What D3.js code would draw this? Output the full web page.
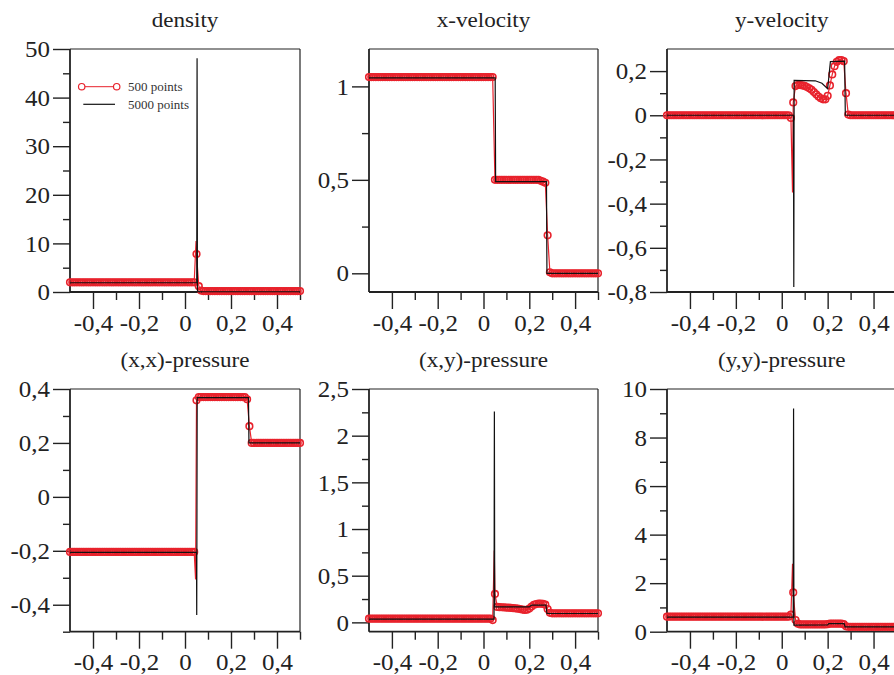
<!DOCTYPE html>
<html>
<head>
<meta charset="utf-8">
<script src="https://cdn.jsdelivr.net/npm/d3@7"></script>
<style>
body{margin:0;background:#fff}
svg{display:block}
</style>
</head>
<body>
<svg id="chart" width="894" height="675"></svg>
<script>
// ---------------- DATA ----------------
const titles = ["density","x-velocity","y-velocity","(x,x)-pressure","(x,y)-pressure","(y,y)-pressure"];
const seriesNames = ["500 points","5000 points"];
const xDomain = [-0.5, 0.5];
const xTicksMajor = [-0.4,-0.2,0,0.2,0.4];
const xTicksMinor = [-0.3,-0.1,0.1,0.3,0.5];

// sample positions of the marked 500-point solution (every 5th cell)
const gridX = d3.range(101).map(i => Math.round((-0.5 + 0.01*i)*100)/100);

const densityRed = [
2,2,2,2,2,2,2,2,2,2,
2,2,2,2,2,2,2,2,2,2,
2,2,2,2,2,2,2,2,2,2,
2,2,2,2,2,2,2,2,2,2,
2,2,2,2,2,2,2,2,2,2,
2,2,2,2,2,7.8,1.2,0.3,0.2,0.2,
0.2,0.2,0.2,0.2,0.2,0.2,0.2,0.2,0.2,0.2,
0.2,0.2,0.2,0.2,0.2,0.2,0.2,0.2,0.2,0.2,
0.2,0.2,0.2,0.2,0.2,0.2,0.2,0.2,0.2,0.2,
0.2,0.2,0.2,0.2,0.2,0.2,0.2,0.2,0.2,0.2,
0.2];
const densityRedExtra = [[0.048,10.5]];
const densityBlack = [[-0.5,1.9],[0.051,1.9],[0.0525,48.1],[0.054,0.4],[0.056,0.05],[0.5,0.05]];

const xVelRed = [
1.05,1.05,1.05,1.05,1.05,1.05,1.05,1.05,1.05,1.05,
1.05,1.05,1.05,1.05,1.05,1.05,1.05,1.05,1.05,1.05,
1.05,1.05,1.05,1.05,1.05,1.05,1.05,1.05,1.05,1.05,
1.05,1.05,1.05,1.05,1.05,1.05,1.05,1.05,1.05,1.05,
1.05,1.05,1.05,1.05,1.05,1.05,1.05,1.05,1.05,1.05,
1.05,1.05,1.05,1.05,1.05,0.5,0.5,0.5,0.5,0.5,
0.5,0.5,0.5,0.5,0.5,0.5,0.5,0.5,0.5,0.5,
0.5,0.5,0.5,0.5,0.5,0.495,0.49,0.484,0.203,0.005,
0,0,0,0,0,0,0,0,0,0,
0,0,0,0,0,0,0,0,0,0,
0];
const xVelRedExtra = [];
const xVelBlack = [[-0.5,1.045],[0.051,1.045],[0.053,0.49],[0.275,0.49],[0.277,0],[0.5,0]];

const yVelRed = [
0,0,0,0,0,0,0,0,0,0,
0,0,0,0,0,0,0,0,0,0,
0,0,0,0,0,0,0,0,0,0,
0,0,0,0,0,0,0,0,0,0,
0,0,0,0,0,0,0,0,0,0,
0,0,0,0,-0.012,0.058,0.132,0.137,0.137,0.135,
0.133,0.128,0.122,0.115,0.105,0.095,0.085,0.077,0.072,0.072,
0.088,0.135,0.185,0.222,0.242,0.25,0.25,0.245,0.1,0.003,
0,0,0,0,0,0,0,0,0,0,
0,0,0,0,0,0,0,0,0,0,
0];
const yVelRedExtra = [[0.047,-0.35]];
const yVelBlack = [[-0.5,0],[0.051,0],[0.0525,-0.777],[0.054,0.158],[0.146,0.156],[0.175,0.145],[0.2,0.12],[0.212,0.243],[0.274,0.245],[0.277,0],[0.5,0]];

const pxxRed = [
-0.204,-0.204,-0.204,-0.204,-0.204,-0.204,-0.204,-0.204,-0.204,-0.204,
-0.204,-0.204,-0.204,-0.204,-0.204,-0.204,-0.204,-0.204,-0.204,-0.204,
-0.204,-0.204,-0.204,-0.204,-0.204,-0.204,-0.204,-0.204,-0.204,-0.204,
-0.204,-0.204,-0.204,-0.204,-0.204,-0.204,-0.204,-0.204,-0.204,-0.204,
-0.204,-0.204,-0.204,-0.204,-0.204,-0.204,-0.204,-0.204,-0.204,-0.204,
-0.204,-0.204,-0.204,-0.204,-0.204,0.358,0.37,0.37,0.37,0.37,
0.37,0.37,0.37,0.37,0.37,0.37,0.37,0.37,0.37,0.37,
0.37,0.37,0.37,0.37,0.37,0.37,0.37,0.362,0.262,0.2,
0.2,0.2,0.2,0.2,0.2,0.2,0.2,0.2,0.2,0.2,
0.2,0.2,0.2,0.2,0.2,0.2,0.2,0.2,0.2,0.2,
0.2];
const pxxRedExtra = [[0.046,-0.306]];
const pxxBlack = [[-0.5,-0.206],[0.05,-0.206],[0.051,-0.438],[0.053,0.368],[0.276,0.368],[0.278,0.2],[0.5,0.2]];

const pxyRed = [
0.04,0.04,0.04,0.04,0.04,0.04,0.04,0.04,0.04,0.04,
0.04,0.04,0.04,0.04,0.04,0.04,0.04,0.04,0.04,0.04,
0.04,0.04,0.04,0.04,0.04,0.04,0.04,0.04,0.04,0.04,
0.04,0.04,0.04,0.04,0.04,0.04,0.04,0.04,0.04,0.04,
0.04,0.04,0.04,0.04,0.04,0.04,0.04,0.04,0.04,0.04,
0.04,0.04,0.04,0.04,0.025,0.305,0.165,0.163,0.162,0.16,
0.158,0.157,0.155,0.152,0.15,0.147,0.142,0.137,0.133,0.135,
0.148,0.17,0.188,0.196,0.2,0.2,0.198,0.19,0.143,0.102,
0.097,0.097,0.097,0.097,0.097,0.097,0.097,0.097,0.097,0.097,
0.097,0.097,0.097,0.097,0.097,0.097,0.097,0.097,0.097,0.097,
0.097];
const pxyRedExtra = [[0.047,0.77]];
const pxyBlack = [[-0.5,0.035],[0.046,0.035],[0.0475,2.26],[0.049,0.168],[0.2,0.165],[0.21,0.185],[0.273,0.185],[0.277,0.095],[0.5,0.095]];

const pyyRed = [
0.62,0.62,0.62,0.62,0.62,0.62,0.62,0.62,0.62,0.62,
0.62,0.62,0.62,0.62,0.62,0.62,0.62,0.62,0.62,0.62,
0.62,0.62,0.62,0.62,0.62,0.62,0.62,0.62,0.62,0.62,
0.62,0.62,0.62,0.62,0.62,0.62,0.62,0.62,0.62,0.62,
0.62,0.62,0.62,0.62,0.62,0.62,0.62,0.62,0.62,0.62,
0.62,0.62,0.62,0.62,0.7,1.62,0.48,0.33,0.3,0.3,
0.3,0.3,0.3,0.3,0.3,0.3,0.3,0.3,0.3,0.3,
0.31,0.33,0.33,0.33,0.33,0.33,0.33,0.31,0.22,0.2,
0.2,0.2,0.2,0.2,0.2,0.2,0.2,0.2,0.2,0.2,
0.2,0.2,0.2,0.2,0.2,0.2,0.2,0.2,0.2,0.2,
0.2];
const pyyRedExtra = [[0.047,2.8]];
const pyyBlack = [[-0.5,0.6],[0.05,0.6],[0.0515,9.2],[0.053,0.27],[0.2,0.28],[0.205,0.33],[0.272,0.33],[0.276,0.2],[0.5,0.2]];

const yDomains = [[0,50],[-0.1,1.2],[-0.8,0.3],[-0.5,0.4],[-0.1,2.5],[0,10]];
const yMajorTicks = [
  [0,10,20,30,40,50],
  [0,0.5,1],
  [-0.8,-0.6,-0.4,-0.2,0,0.2],
  [-0.4,-0.2,0,0.2,0.4],
  [0,0.5,1,1.5,2,2.5],
  [0,2,4,6,8,10]
];
const yMinorTicks = [
  [5,15,25,35,45],
  [0.25,0.75],
  [-0.7,-0.5,-0.3,-0.1,0.1],
  [-0.5,-0.3,-0.1,0.1,0.3],
  [0.25,0.75,1.25,1.75,2.25],
  [1,3,5,7,9]
];
const redSeries = [densityRed,xVelRed,yVelRed,pxxRed,pxyRed,pyyRed];
const redExtras = [densityRedExtra,xVelRedExtra,yVelRedExtra,pxxRedExtra,pxyRedExtra,pyyRedExtra];
const blackSeries = [densityBlack,xVelBlack,yVelBlack,pxxBlack,pxyBlack,pyyBlack];

// ---------------- LAYOUT / STYLE ----------------
const layout = [
  {x0:70,  x1:300,   y0:292,   y1:49},
  {x0:369, x1:598,   y0:292,   y1:49},
  {x0:667, x1:896.5, y0:292,   y1:49},
  {x0:70,  x1:300,   y0:631.7, y1:389},
  {x0:369, x1:598,   y0:631.7, y1:389},
  {x0:667, x1:896.5, y0:631.7, y1:389}
];
const RED = "#e8222c", BLACK = "#111", AXIS = "#222";
const FONT = "'Liberation Serif','Times New Roman',serif";
const TICK_FS = 24, TICK_STRETCH = 1.04, TITLE_STRETCH = 1.05;

const svg = d3.select("#chart");
const fmt = v => String(v).replace(".", ",");

function styleAxis(sel) {
  sel.select(".domain").remove();
  sel.selectAll(".tick line").attr("stroke", AXIS).attr("stroke-width", 1.4);
  sel.selectAll(".tick text").attr("fill", AXIS).style("font-family", FONT).style("font-size", TICK_FS + "px")
    .each(function() {
      const t = d3.select(this);
      const tx = +t.attr("x") || 0, ty = +t.attr("y") || 0;
      t.attr("x", 0).attr("y", 0).attr("transform", `translate(${tx},${ty}) scale(${TICK_STRETCH},1)`);
    });
}

titles.forEach((title, k) => {
  const L = layout[k];
  const x = d3.scaleLinear().domain(xDomain).range([L.x0, L.x1]);
  const y = d3.scaleLinear().domain(yDomains[k]).range([L.y0, L.y1]);
  const g = svg.append("g");

  // y axis ticks
  g.append("g").attr("transform", `translate(${L.x0},0)`)
    .call(d3.axisLeft(y).tickValues(yMajorTicks[k]).tickSize(17).tickPadding(3).tickFormat(fmt))
    .call(styleAxis);
  g.append("g").attr("transform", `translate(${L.x0},0)`)
    .call(d3.axisLeft(y).tickValues(yMinorTicks[k]).tickSize(7).tickFormat(""))
    .call(styleAxis);
  // x axis ticks
  g.append("g").attr("transform", `translate(0,${L.y0})`)
    .call(d3.axisBottom(x).tickValues(xTicksMajor).tickSize(17).tickPadding(4.5).tickFormat(fmt))
    .call(styleAxis);
  g.append("g").attr("transform", `translate(0,${L.y0})`)
    .call(d3.axisBottom(x).tickValues(xTicksMinor).tickSize(8).tickFormat(""))
    .call(styleAxis);

  // frame
  g.append("line").attr("x1", L.x0).attr("x2", L.x1).attr("y1", L.y1).attr("y2", L.y1)
    .attr("stroke", AXIS).attr("stroke-width", 1.2);
  g.append("line").attr("x1", L.x1).attr("x2", L.x1).attr("y1", L.y1).attr("y2", L.y0)
    .attr("stroke", AXIS).attr("stroke-width", 1.2);
  g.append("line").attr("x1", L.x0).attr("x2", L.x0).attr("y1", L.y1).attr("y2", L.y0)
    .attr("stroke", AXIS).attr("stroke-width", 1.8);
  g.append("line").attr("x1", L.x0).attr("x2", L.x1).attr("y1", L.y0).attr("y2", L.y0)
    .attr("stroke", AXIS).attr("stroke-width", 1.8);

  // red series (500 points): line through all points, markers on every 5th point
  const marked = gridX.map((xv, i) => [xv, redSeries[k][i]]);
  const redLine = marked.concat(redExtras[k]).sort((a, b) => a[0] - b[0]);
  const line = d3.line().x(d => x(d[0])).y(d => y(d[1]));
  g.append("path").datum(redLine).attr("d", line)
    .attr("fill", "none").attr("stroke", RED).attr("stroke-width", 1.2);
  g.append("g").selectAll("circle").data(marked).join("circle")
    .attr("cx", d => x(d[0])).attr("cy", d => y(d[1])).attr("r", 3.3)
    .attr("fill", "none").attr("stroke", RED).attr("stroke-width", 1.6);

  // black series (5000 points)
  g.append("path").datum(blackSeries[k]).attr("d", line)
    .attr("fill", "none").attr("stroke", BLACK).attr("stroke-width", 1.2);

  // title
  const cx = (L.x0 + L.x1) / 2;
  g.append("text").attr("transform", `translate(${cx},${L.y1 - 22}) scale(${TITLE_STRETCH},1)`)
    .attr("text-anchor", "middle").style("font-family", FONT).style("font-size", "22px")
    .attr("fill", AXIS).text(title);
});

// legend in the first panel
const lg = svg.append("g");
lg.append("line").attr("x1", 81.7).attr("x2", 116.7).attr("y1", 86.7).attr("y2", 86.7)
  .attr("stroke", RED).attr("stroke-width", 1);
[81.7, 116.7].forEach(cx => lg.append("circle").attr("cx", cx).attr("cy", 86.7).attr("r", 3.2)
  .attr("fill", "#fff").attr("stroke", RED).attr("stroke-width", 1.2));
lg.append("line").attr("x1", 83.3).attr("x2", 115).attr("y1", 104.3).attr("y2", 104.3)
  .attr("stroke", BLACK).attr("stroke-width", 1.2);
[[seriesNames[0], 86.7], [seriesNames[1], 104.3]].forEach(([t, yy]) =>
  lg.append("text").attr("x", 128).attr("y", yy).attr("dy", "0.35em")
    .style("font-family", FONT).style("font-size", "13px").attr("fill", "#333").text(t));
</script>
</body>
</html>
